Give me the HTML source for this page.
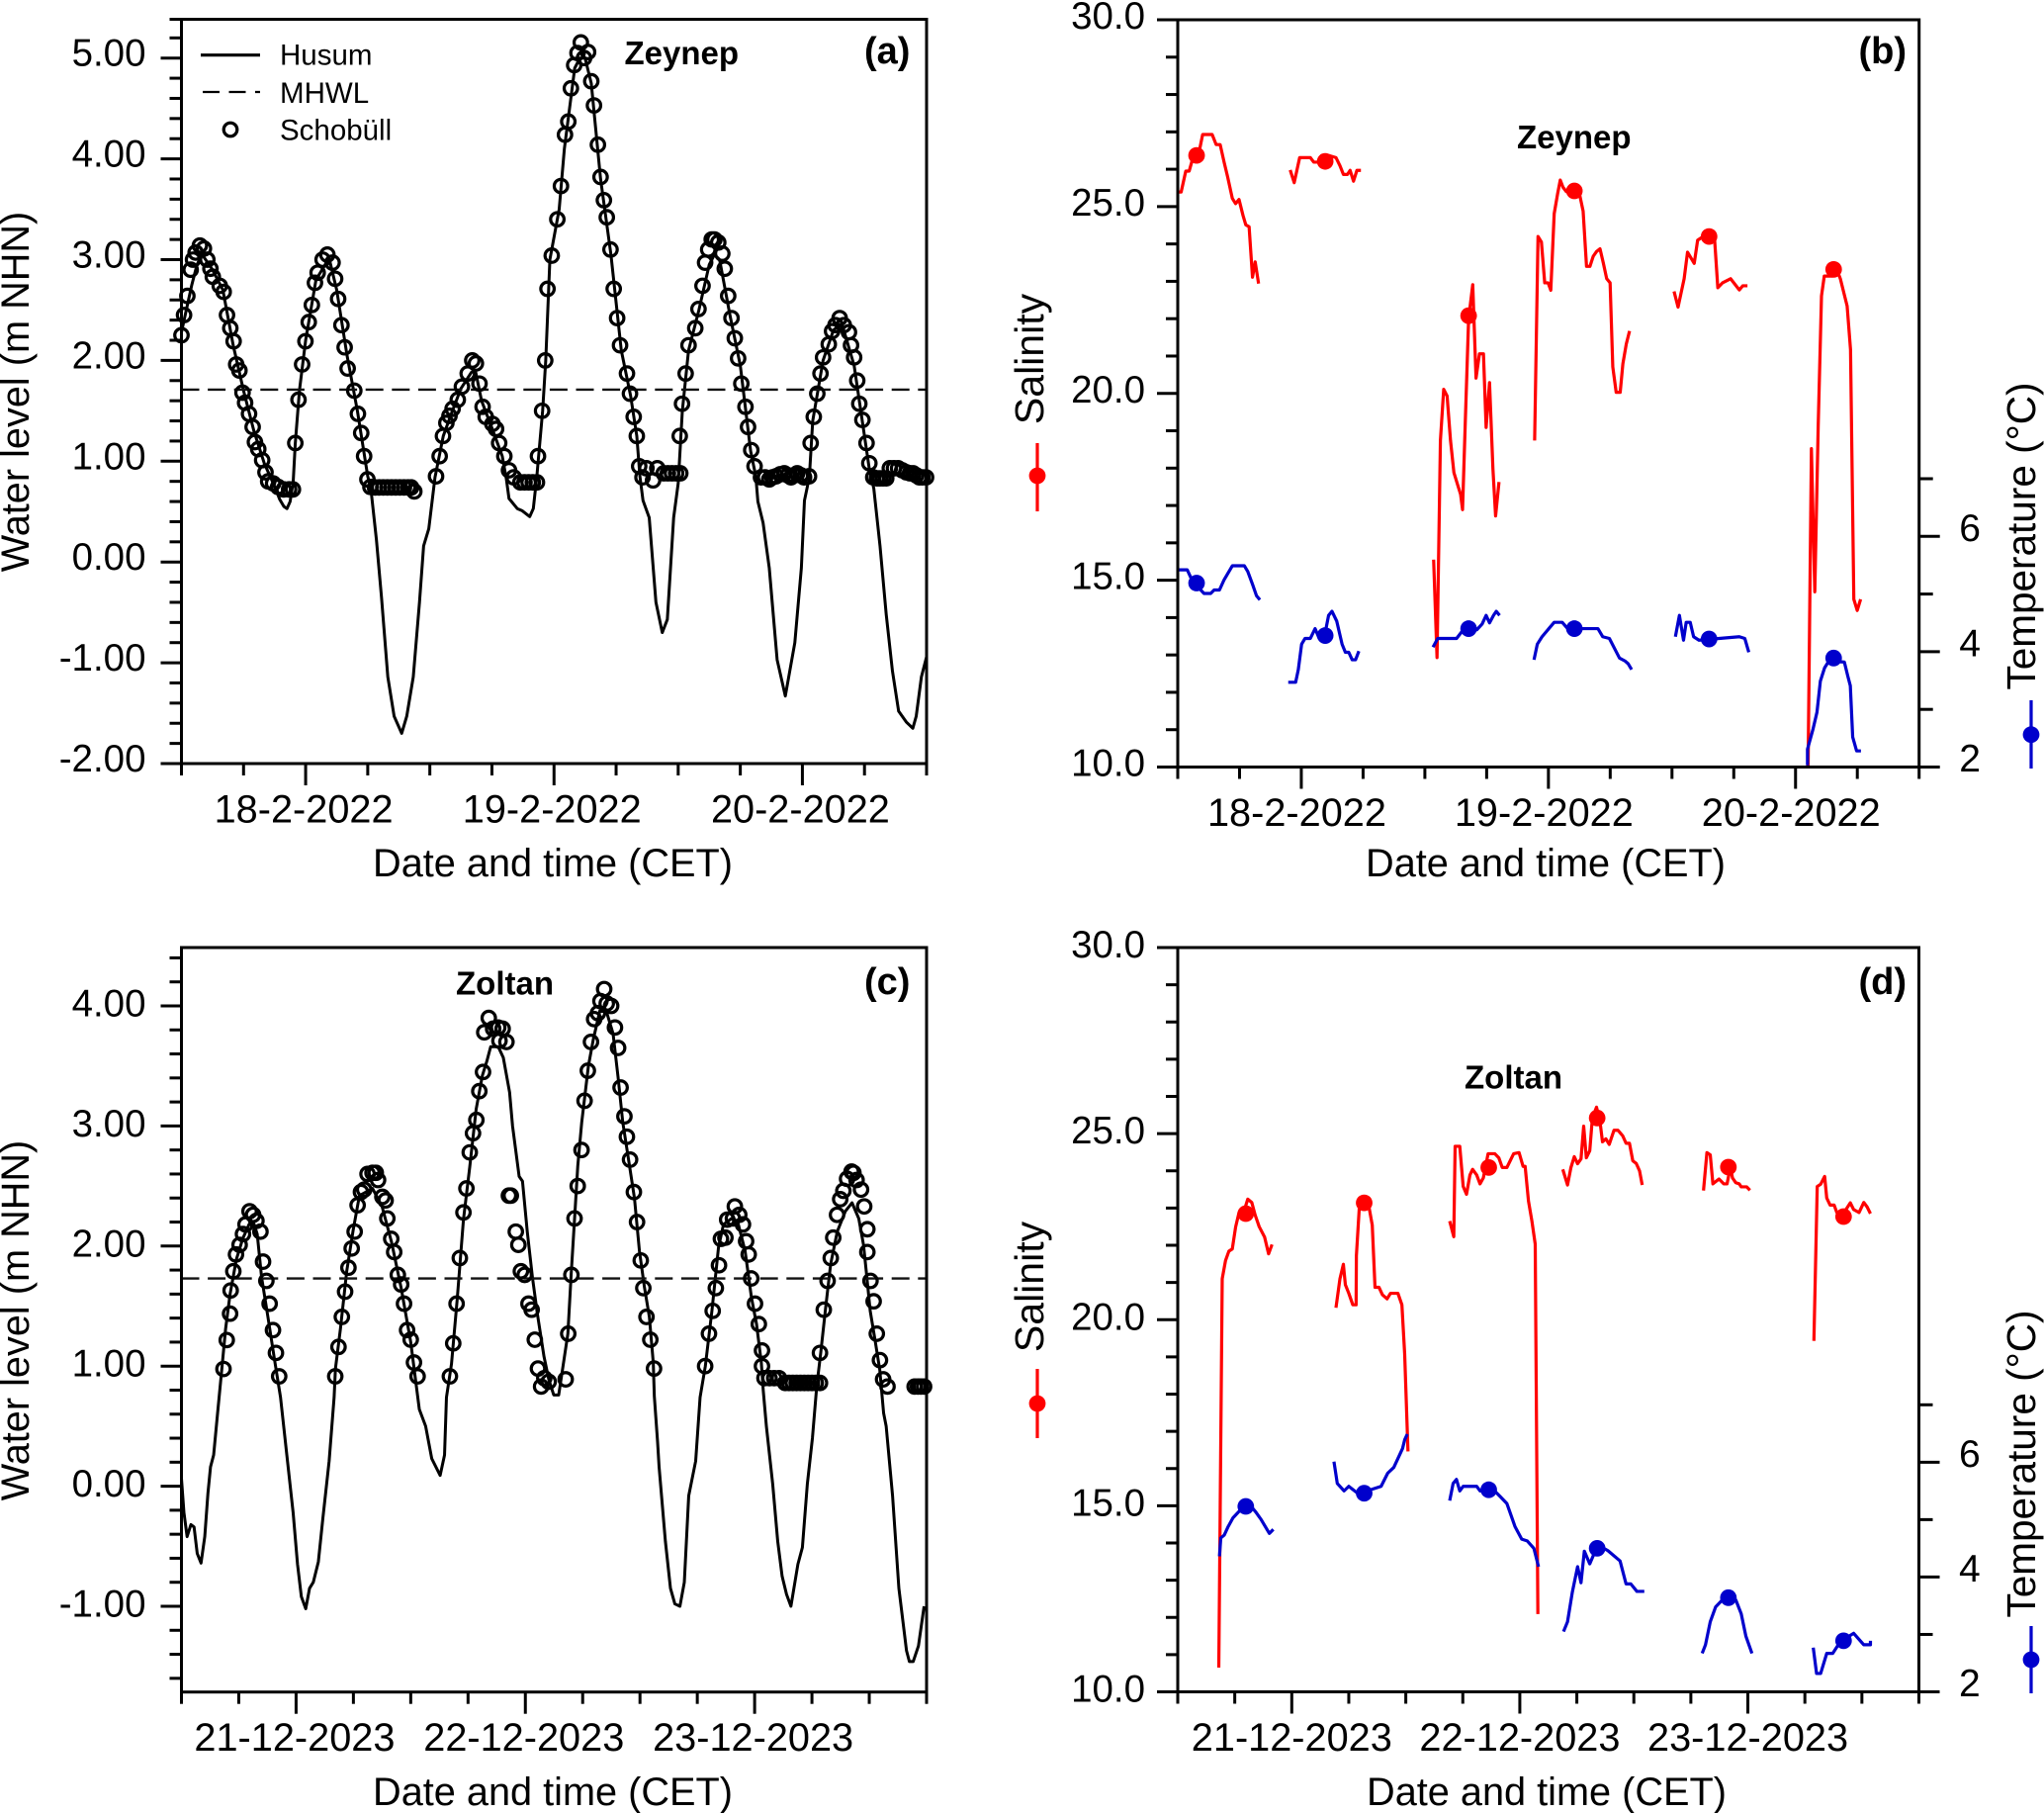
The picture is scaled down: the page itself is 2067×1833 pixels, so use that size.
<!DOCTYPE html>
<html lang="en">
<head>
<meta charset="utf-8">
<title>Water level, salinity and temperature during storms Zeynep and Zoltan</title>
<style>
html,body{margin:0;padding:0;background:#fff;}
svg{display:block;font-family:"Liberation Sans",Arial,sans-serif;fill:#000;}
.tick{font-size:38.5px;}
.xt{font-size:39.7px;}
.rt{font-size:39px;}
.title{font-size:39.7px;}
.sal{font-size:41px;}
.temp{font-size:40.5px;}
.leg{font-size:29.5px;}
.bold{font-size:33px;font-weight:bold;}
.tag{font-size:38px;font-weight:bold;}
</style>
</head>
<body>
<svg id="figure" xmlns="http://www.w3.org/2000/svg" width="2067" height="1833" viewBox="0 0 2067 1833">
  <rect x="0" y="0" width="2067" height="1833" fill="#fff"/>
  <g id="panel-a"></g>
  <g id="panel-b"></g>
  <g id="panel-c"></g>
  <g id="panel-d"></g>

  <g>
    <line x1="203" x2="263" y1="55.7" y2="55.7" stroke="#000" stroke-width="3.2"/>
    <text class="leg" x="283" y="65.7">Husum</text>
    <line x1="205" x2="263" y1="93" y2="93" stroke="#000" stroke-width="2.2" stroke-dasharray="17 9.5"/>
    <text class="leg" x="283" y="104">MHWL</text>
    <circle cx="233" cy="131" r="6.8" fill="none" stroke="#000" stroke-width="3.2"/>
    <text class="leg" x="283" y="141.7">Schobüll</text>
  </g>

  <text class="bold" x="631.5" y="65">Zeynep</text>
  <text class="tag" x="874" y="64">(a)</text>
  <text class="bold" x="1534" y="150">Zeynep</text>
  <text class="tag" x="1879.5" y="64">(b)</text>
  <text class="bold" x="461" y="1005.5">Zoltan</text>
  <text class="tag" x="874" y="1005">(c)</text>
  <text class="bold" x="1481" y="1100.5">Zoltan</text>
  <text class="tag" x="1879.5" y="1005">(d)</text>

  <text class="title" x="559" y="886" text-anchor="middle">Date and time (CET)</text>
  <text class="title" x="1563" y="886" text-anchor="middle">Date and time (CET)</text>
  <text class="title" x="559" y="1825" text-anchor="middle">Date and time (CET)</text>
  <text class="title" x="1564" y="1825" text-anchor="middle">Date and time (CET)</text>

  <text class="title" text-anchor="middle" transform="translate(29 396) rotate(-90)">Water level (m NHN)</text>
  <text class="title" text-anchor="middle" transform="translate(29 1335) rotate(-90)">Water level (m NHN)</text>
  <text class="sal" text-anchor="middle" transform="translate(1055 363) rotate(-90)">Salinity</text>
  <text class="sal" text-anchor="middle" transform="translate(1055 1301) rotate(-90)">Salinity</text>
  <text class="temp" text-anchor="middle" transform="translate(2058 542) rotate(-90)">Temperature (°C)</text>
  <text class="temp" text-anchor="middle" transform="translate(2058 1480) rotate(-90)">Temperature (°C)</text>

  <g>
    <line x1="1049" x2="1049" y1="448" y2="517" stroke="#f00" stroke-width="3.2"/>
    <circle cx="1049" cy="481" r="8.4" fill="#f00"/>
  </g>
  <g>
    <line x1="1049" x2="1049" y1="1384" y2="1454" stroke="#f00" stroke-width="3.2"/>
    <circle cx="1049" cy="1419" r="8.4" fill="#f00"/>
  </g>
  <g>
    <line x1="2054" x2="2054" y1="708" y2="777" stroke="#00c" stroke-width="3.2"/>
    <circle cx="2054" cy="742.7" r="8.4" fill="#00c"/>
  </g>
  <g>
    <line x1="2054" x2="2054" y1="1644" y2="1712" stroke="#00c" stroke-width="3.2"/>
    <circle cx="2054" cy="1678" r="8.4" fill="#00c"/>
  </g>
</svg>

<script>
// ---------- Data: [hours since axis start, value] ----------
const zeynepDays = ['18-2-2022','19-2-2022','20-2-2022'];
const zoltanDays = ['21-12-2023','22-12-2023','23-12-2023'];
const levelLabelsA = ['-2.00','-1.00','0.00','1.00','2.00','3.00','4.00','5.00'];
const levelLabelsC = ['-1.00','0.00','1.00','2.00','3.00','4.00'];
const salinityLabels = ['10.0','15.0','20.0','25.0','30.0'];
const temperatureLabels = ['2','4','6'];
const mhwlZeynep = 1.71;
const mhwlZoltan = 1.73;

const husumA = [[0,2.28],[1,2.75],[1.5,2.95],[2,3.05],[3,2.9],[4,2.7],[5,2.15],[6,1.7],[7,1.3],[8,.98],[9,.75],[9.5,.62],[9.9,.55],[10.2,.53],[10.5,.6],[10.8,.8],[11,1.18],[11.4,1.7],[12,2.2],[13,2.8],[14,2.97],[14.3,3],[15,2.7],[16,2.05],[17,1.5],[18,.85],[18.3,.73],[18.84,.22],[19.33,-.35],[19.94,-1.14],[20.55,-1.53],[21.28,-1.7],[21.77,-1.53],[22.4,-1.14],[23,-.4],[23.4,.16],[23.9,.33],[24.5,.84],[25.3,1.25],[26,1.45],[27,1.72],[28,1.88],[28.4,1.9],[29,1.6],[30,1.33],[31,1.05],[31.4,.82],[31.65,.63],[32.45,.53],[32.9,.51],[33.65,.45],[34,.53],[34.35,.86],[34.9,1.5],[35.2,2],[35.6,3],[36.5,3.5],[37,4.1],[38,4.9],[38.5,5],[39,5],[39.6,4.75],[40.5,3.8],[41.5,3.05],[42.5,2.1],[43.4,1.65],[44,1.25],[44.3,.85],[44.6,.61],[45.2,.44],[45.85,-.4],[46.46,-.7],[46.95,-.57],[47.56,.44],[48,.78],[48.4,1.5],[49,2.1],[50,2.5],[51,2.95],[51.5,3.05],[52,3],[53,2.45],[54,1.95],[55,1.1],[55.5,.85],[55.7,.6],[56.2,.39],[56.8,-.06],[57.56,-.97],[58.35,-1.33],[59.27,-.8],[59.9,-.06],[60.2,.61],[60.67,.84],[61,1.4],[62,2],[63,2.3],[63.6,2.35],[64,2.3],[65,1.95],[66,1.25],[66.5,.9],[66.9,.73],[67.5,.16],[68.1,-.52],[68.7,-1.08],[69.3,-1.48],[70.06,-1.59],[70.67,-1.65],[71,-1.53],[71.5,-1.14],[72,-.94]];

const schobuellA = [[0,2.25],[.25,2.45],[.57,2.64],[.89,2.9],[1.12,3],[1.37,3.07],[1.78,3.14],[2.17,3.11],[2.5,3],[2.8,2.91],[3.03,2.83],[3.7,2.74],[4.08,2.68],[4.4,2.45],[4.72,2.32],[5.04,2.19],[5.29,1.96],[5.6,1.9],[5.9,1.68],[6.15,1.58],[6.53,1.47],[6.88,1.34],[7.1,1.19],[7.42,1.12],[7.8,1.01],[8.12,.89],[8.38,.8],[8.86,.78],[9.34,.745],[9.88,.72],[10.4,.72],[10.77,.72],[11,1.18],[11.31,1.61],[11.66,1.96],[11.98,2.19],[12.3,2.38],[12.6,2.55],[12.9,2.77],[13.16,2.87],[13.64,3],[14.1,3.05],[14.6,2.97],[14.85,2.81],[15.14,2.61],[15.46,2.35],[15.77,2.13],[16.06,1.92],[16.7,1.7],[17.05,1.47],[17.37,1.28],[17.65,1.05],[17.97,.82],[18.26,.745],[18.7,.74],[19.1,.74],[19.5,.74],[19.9,.74],[20.3,.74],[20.7,.74],[21.1,.74],[21.5,.74],[21.9,.74],[22.2,.74],[22.5,.7],[24.6,.85],[24.95,1.05],[25.27,1.25],[25.6,1.38],[25.9,1.45],[26.2,1.52],[26.7,1.61],[27.1,1.74],[27.66,1.87],[28.1,2],[28.45,1.97],[28.8,1.77],[29.1,1.54],[29.4,1.44],[30.05,1.37],[30.4,1.32],[30.7,1.18],[31.2,1.05],[31.65,.91],[32.1,.84],[32.75,.79],[33.15,.79],[33.55,.79],[33.95,.79],[34.35,.79],[34.45,1.05],[34.85,1.5],[35.15,2],[35.37,2.71],[35.78,3.04],[36.32,3.4],[36.67,3.73],[37.06,4.24],[37.38,4.37],[37.63,4.7],[37.95,4.93],[38.27,5.05],[38.59,5.155],[38.9,5],[39.29,5.06],[39.6,4.77],[39.86,4.53],[40.24,4.14],[40.5,3.82],[40.82,3.59],[41.1,3.42],[41.46,3.1],[41.77,2.71],[42.1,2.42],[42.38,2.15],[43.05,1.87],[43.34,1.67],[43.7,1.44],[44,1.25],[44.23,.95],[44.55,.84],[44.93,.93],[45.57,.81],[45.98,.93],[46.6,.88],[47,.88],[47.4,.88],[47.8,.88],[48.2,.88],[48.15,1.25],[48.37,1.57],[48.72,1.87],[49,2.15],[49.65,2.32],[49.96,2.51],[50.35,2.74],[50.6,2.97],[50.9,3.1],[51.24,3.2],[51.5,3.2],[51.87,3.17],[52.26,3.06],[52.5,2.91],[52.83,2.64],[53.15,2.42],[53.47,2.22],[53.79,2.02],[54.1,1.77],[54.5,1.54],[54.75,1.34],[55.06,1.11],[55.38,.95],[56,.84],[56.4,.84],[56.8,.82],[57.1,.84],[57.45,.85],[57.85,.87],[58.25,.88],[58.6,.86],[58.9,.84],[59.2,.86],[59.5,.88],[59.85,.86],[60.16,.84],[60.64,.85],[60.8,1.18],[61.1,1.44],[61.44,1.67],[61.75,1.87],[62,2.03],[62.55,2.16],[62.87,2.29],[63.2,2.35],[63.6,2.42],[64,2.35],[64.5,2.28],[64.7,2.15],[65,2.03],[65.3,1.8],[65.5,1.57],[65.8,1.41],[66.2,1.18],[66.47,.98],[66.85,.84],[67.2,.83],[67.5,.83],[67.8,.83],[68.1,.83],[68.45,.93],[68.85,.93],[69.25,.93],[69.65,.91],[70.05,.89],[70.4,.88],[70.7,.88],[71,.86],[71.3,.84],[71.6,.84],[71.95,.84]];

const husumC = [[0,.065],[.26,-.22],[.59,-.42],[.99,-.32],[1.32,-.34],[1.65,-.56],[2.05,-.64],[2.44,-.42],[2.77,-.06],[3.04,.16],[3.37,.26],[3.76,.59],[4.23,.98],[4.62,1.31],[5.09,1.6],[5.75,1.89],[6.41,2.06],[7.07,2.18],[7.53,2.2],[7.93,2.1],[8.39,1.74],[9.05,1.41],[9.71,1.07],[10.37,.74],[11.03,.26],[11.69,-.22],[12.15,-.65],[12.55,-.92],[13.01,-1.02],[13.41,-.85],[13.8,-.8],[14.33,-.63],[14.8,-.27],[15.46,.21],[15.98,.74],[16.12,.98],[16.64,1.31],[17.3,1.79],[17.97,2.13],[18.63,2.42],[20,2.48],[21,2.33],[22,2.03],[23,1.65],[24,1.2],[24.9,.64],[25.56,.5],[26.2,.23],[27.08,.09],[27.54,.26],[27.74,.74],[28.27,1.02],[28.86,1.55],[29.52,2.22],[30.18,2.66],[30.85,3.14],[31.5,3.42],[31.97,3.54],[32.37,3.66],[33.16,3.66],[33.69,3.57],[34.35,3.28],[34.66,3],[35.35,2.58],[35.7,2.54],[36.2,2.12],[36.74,1.74],[37.25,1.44],[37.95,1.08],[38.45,.89],[38.97,.76],[39.49,.76],[40,1.03],[40.45,1.27],[40.8,1.77],[41.2,2.29],[41.49,2.67],[41.9,3.03],[42.6,3.5],[43.11,3.72],[43.8,3.96],[44.5,3.95],[45.18,3.77],[45.7,3.41],[46.2,3.03],[46.9,2.67],[47.42,2.4],[47.94,1.96],[48.46,1.66],[48.98,1.41],[49.39,1.03],[49.5,.75],[49.84,.37],[50,.16],[50.66,-.46],[51.19,-.85],[51.65,-.98],[52.18,-1],[52.64,-.8],[53.1,-.08],[53.83,.21],[54.29,.74],[54.84,1],[55.53,1.46],[56.22,1.99],[56.74,2.18],[57.6,2.23],[58.3,2.18],[59,1.96],[59.67,1.57],[60.2,1.35],[60.7,1.03],[60.9,.8],[61.23,.5],[61.89,.02],[62.42,-.46],[62.88,-.75],[63.34,-.9],[63.8,-1],[64.53,-.65],[65,-.51],[65.52,.02],[66.05,.4],[66.5,.83],[66.92,1.11],[67.44,1.49],[67.96,1.85],[68.65,2.12],[69.5,2.29],[70.2,2.36],[70.9,2.23],[71.4,2.01],[71.75,1.74],[72.1,1.46],[72.6,1.22],[73.1,.97],[73.5,.61],[73.77,.5],[74.44,-.08],[75.1,-.85],[75.9,-1.37],[76.2,-1.46],[76.6,-1.46],[77.15,-1.33],[77.74,-1]];

const schobuellC = [[4.4,.976],[4.74,1.217],[5.09,1.437],[5.15,1.63],[5.43,1.79],[5.71,1.93],[6.09,2.01],[6.44,2.1],[6.71,2.18],[7.13,2.29],[7.5,2.26],[7.85,2.21],[8.27,2.12],[8.54,1.87],[8.89,1.71],[9.23,1.52],[9.58,1.3],[9.89,1.11],[10.23,.915],[16.1,.915],[16.44,1.16],[16.79,1.41],[17.13,1.62],[17.48,1.82],[17.82,1.98],[18.13,2.12],[18.44,2.34],[18.79,2.45],[19.13,2.47],[19.48,2.6],[20,2.61],[20.34,2.61],[20.58,2.55],[21.03,2.41],[21.37,2.38],[21.55,2.23],[21.96,2.06],[22.27,1.95],[22.65,1.76],[23,1.68],[23.3,1.52],[23.62,1.3],[24,1.22],[24.34,1.03],[24.72,.915],[28.1,.915],[28.45,1.19],[28.8,1.52],[29.14,1.9],[29.52,2.28],[29.83,2.48],[30.18,2.78],[30.52,2.94],[30.87,3.05],[31.18,3.29],[31.57,3.45],[31.7,3.78],[32.17,3.9],[32.63,3.81],[33.16,3.82],[33.62,3.81],[33.29,3.71],[34.02,3.7],[34.48,2.42],[34.28,2.42],[35,2.12],[35.27,2.01],[35.53,1.79],[35.93,1.76],[36.33,1.52],[36.66,1.47],[36.99,1.22],[37.32,.98],[37.65,.83],[37.98,.9],[38.44,.87],[40.22,.89],[40.49,1.27],[40.82,1.76],[41.15,2.23],[41.48,2.5],[41.88,2.8],[42.2,3.21],[42.54,3.46],[42.87,3.7],[43.2,3.89],[43.6,3.94],[43.86,4.04],[44.25,4.14],[44.52,4.02],[44.98,4],[45.38,3.82],[45.71,3.65],[45.97,3.32],[46.37,3.08],[46.63,2.91],[46.96,2.72],[47.36,2.45],[47.69,2.2],[48.08,1.88],[48.35,1.65],[48.68,1.41],[49.08,1.22],[49.47,.98],[54.82,1],[55.22,1.27],[55.61,1.46],[55.94,1.65],[56.27,1.84],[56.47,2.06],[56.94,2.07],[57.13,2.22],[57.73,2.23],[57.93,2.33],[58.39,2.26],[58.78,2.18],[59.11,2.04],[59.38,1.93],[59.64,1.73],[60.04,1.52],[60.44,1.35],[60.77,1.13],[60.77,1],[61.03,.9],[61.56,.9],[62.05,.9],[62.55,.9],[63.2,.86],[63.6,.86],[64,.86],[64.4,.86],[64.8,.86],[65.2,.86],[65.6,.86],[66,.86],[66.4,.86],[66.84,.86],[66.84,1.11],[67.24,1.47],[67.64,1.71],[67.97,1.9],[68.23,2.07],[68.63,2.26],[68.96,2.39],[69.29,2.46],[69.68,2.56],[70.15,2.62],[70.34,2.61],[70.67,2.55],[71.14,2.47],[71.47,2.33],[71.8,2.14],[71.8,1.95],[72.13,1.71],[72.46,1.54],[72.79,1.27],[73.12,1.05],[73.45,.89],[73.91,.83],[76.75,.83],[77.1,.83],[77.4,.83],[77.74,.83]];

const salinityB1 = [[0,25.39],[.33,25.39],[.78,25.95],[1.11,25.95],[1.57,26.4],[2.03,26.4],[2.42,26.93],[3.34,26.93],[3.73,26.66],[4.12,26.66],[4.51,26.18],[4.84,25.8],[5.3,25.22],[5.62,25.08],[5.95,25.19],[6.34,24.76],[6.61,24.51],[6.93,24.46],[7.26,23.11],[7.52,23.52],[7.85,22.94]];
const salinityB2 = [[10.92,25.98],[11.31,25.64],[11.84,26.31],[12.88,26.31],[13.21,26.19],[13.67,26.19],[14,26.37],[14.65,26.37],[15.37,26.31],[15.76,26.09],[16.09,25.86],[16.48,25.86],[16.74,25.97],[17.07,25.68],[17.4,25.97],[17.79,25.97]];
const salinityB3 = [[24.85,15.55],[25.18,12.93],[25.51,18.74],[25.83,20.11],[26.16,19.93],[26.49,18.74],[26.82,17.88],[27.21,17.53],[27.47,17.3],[27.66,16.89],[27.93,19.27],[28.25,22],[28.65,22.91],[28.97,20.41],[29.3,21.06],[29.69,21.06],[29.95,19.09],[30.28,20.29],[30.61,17.98],[30.87,16.72],[31.2,17.63]];
const salinityB4 = [[34.66,18.74],[34.99,24.2],[35.32,24.05],[35.64,22.96],[35.97,22.96],[36.23,22.76],[36.56,24.81],[36.89,25.34],[37.15,25.71],[37.41,25.52],[37.74,25.4],[38.52,25.4],[39.04,25.31],[39.37,24.88],[39.7,23.4],[40.03,23.4],[40.35,23.67],[40.68,23.8],[41.01,23.87],[41.33,23.49],[41.66,23.07],[41.99,22.96],[42.25,20.71],[42.58,20.03],[42.97,20.03],[43.23,20.79],[43.56,21.32],[43.88,21.67]];
const salinityB5 = [[48.2,22.73],[48.59,22.31],[49.18,23.07],[49.51,23.78],[50.16,23.48],[50.49,24.1],[51.47,24.28],[52.12,24.2],[52.45,22.83],[52.91,22.96],[53.69,23.07],[54.54,22.77],[54.87,22.88],[55.33,22.88]];
const salinityB6 = [[61.22,10.01],[61.54,18.52],[61.87,14.69],[62.2,19.13],[62.52,22.61],[62.79,23.14],[63.57,23.14],[64.03,23.3],[64.35,23.07],[65.01,22.34],[65.34,21.17],[65.66,14.49],[65.99,14.19],[66.32,14.49]];
const salinityDotsB = [[1.83,26.37],[14.32,26.21],[28.25,22.08],[38.52,25.42],[51.6,24.2],[63.7,23.32]];

const temperatureB1 = [[0,5.42],[.92,5.42],[1.44,5.22],[2.55,5.01],[3.2,5.01],[3.53,5.07],[4.05,5.07],[4.51,5.25],[5.3,5.49],[6.47,5.49],[6.8,5.39],[7.26,5.17],[7.65,4.97],[7.98,4.9]];
const temperatureB2 = [[10.73,3.47],[11.45,3.47],[11.71,3.69],[12.03,4.13],[12.36,4.23],[12.88,4.23],[13.34,4.4],[13.67,4.26],[14.32,4.33],[14.65,4.63],[14.98,4.7],[15.44,4.53],[15.96,4.13],[16.28,3.99],[16.61,3.99],[16.94,3.86],[17.27,3.86],[17.59,4.01]];
const temperatureB3 = [[24.79,4.08],[25.25,4.23],[27.08,4.23],[27.73,4.38],[29.04,4.38],[29.56,4.48],[29.95,4.63],[30.28,4.5],[30.67,4.63],[30.93,4.7],[31.26,4.63]];
const temperatureB4 = [[34.6,3.86],[34.92,4.13],[35.38,4.26],[36.04,4.4],[36.56,4.51],[37.34,4.51],[37.87,4.4],[40.81,4.4],[41.27,4.26],[41.92,4.23],[42.9,3.89],[43.43,3.84],[43.75,3.79],[44.08,3.69]];
const temperatureB5 = [[48.33,4.26],[48.72,4.63],[49.12,4.2],[49.38,4.51],[49.77,4.51],[50.1,4.26],[50.62,4.2],[54.54,4.26],[55.07,4.23],[55.46,3.99]];
const temperatureB6 = [[61.16,2.03],[61.16,2.31],[61.7,2.66],[62.08,2.95],[62.41,3.49],[62.82,3.72],[63.24,3.84],[64.74,3.82],[65.07,3.58],[65.32,3.41],[65.55,2.52],[65.93,2.28],[66.35,2.28]];
const temperatureDotsB = [[1.83,5.19],[14.32,4.28],[28.25,4.4],[38.52,4.4],[51.6,4.22],[63.7,3.89]];

const salinityD1 = [[4.32,10.65],[4.68,21.1],[5.03,21.59],[5.38,21.84],[5.74,21.9],[6.09,22.49],[6.45,22.88],[6.87,22.83],[7.37,23.24],[7.79,23.15],[8.15,22.81],[8.57,22.5],[9.14,22.22],[9.56,21.77],[9.92,22.02]];
const salinityD2 = [[16.65,20.32],[17.07,21.1],[17.43,21.49],[17.64,20.94],[18,20.71],[18.42,20.4],[18.77,20.4],[18.8,21.72],[19.13,23.11],[20.05,23.14],[20.47,22.54],[20.76,20.87],[21.18,20.87],[21.54,20.67],[22.03,20.56],[22.39,20.71],[23.17,20.71],[23.59,20.4],[23.88,19.09],[24.23,16.46]];
const salinityD3 = [[28.62,22.65],[29.05,22.23],[29.19,24.66],[29.68,24.66],[30.04,23.58],[30.39,23.37],[30.75,23.89],[31.03,24.04],[31.46,23.89],[31.81,23.65],[32.16,23.81],[32.66,24.46],[33.37,24.46],[33.79,24.35],[34.15,24.09],[34.64,24.09],[35.35,24.46],[35.92,24.49],[36.34,24.12],[36.56,24.12],[36.91,23.19],[37.27,22.65],[37.62,22.03],[37.9,12.09]];
const salinityD4 = [[40.52,24.04],[41.02,23.62],[41.38,24.09],[41.73,24.38],[42.08,24.19],[42.44,24.32],[42.72,25.2],[43,24.35],[43.36,24.54],[43.64,25.43],[44.07,25.71],[44.42,25.36],[44.7,24.78],[45.06,24.86],[45.41,24.71],[45.91,25.09],[46.33,25.09],[46.83,24.94],[47.18,24.74],[47.54,24.74],[47.89,24.27],[48.25,24.2],[48.6,24],[48.88,23.62]];
const salinityD5 = [[55.33,23.47],[55.69,24.49],[56.04,24.43],[56.32,23.65],[56.96,23.78],[57.46,23.65],[57.81,23.65],[58.16,24.1],[58.38,23.81],[58.73,23.68],[59.09,23.65],[59.3,23.57],[59.87,23.57],[60.22,23.48]];
const salinityD6 = [[66.95,19.43],[67.3,23.58],[67.66,23.64],[68.08,23.85],[68.3,23.27],[68.65,23.08],[69.08,23.08],[69.36,22.88],[70.07,22.86],[70.78,23.14],[71.13,22.96],[71.7,22.88],[72.2,23.15],[72.55,23.03],[72.9,22.85]];
const salinityDotsD = [[7.16,22.85],[19.62,23.14],[32.73,24.09],[44.14,25.42],[57.95,24.1],[70.07,22.77]];

const temperatureD1 = [[4.39,4.36],[4.53,4.68],[4.89,4.73],[5.31,4.88],[5.81,5.03],[6.66,5.18],[7.72,5.23],[8.22,5.13],[8.78,5],[9.64,4.76],[10.06,4.83]];
const temperatureD2 = [[16.44,6.01],[16.79,5.63],[17.5,5.5],[18,5.58],[18.92,5.46],[20.47,5.53],[21.4,5.58],[22.1,5.81],[22.74,5.91],[23.66,6.24],[23.88,6.39],[24.16,6.49]];
const temperatureD3 = [[28.62,5.33],[28.98,5.63],[29.33,5.7],[29.68,5.5],[30.04,5.58],[31.46,5.58],[31.81,5.5],[33.23,5.52],[33.94,5.4],[34.64,5.28],[35.49,4.88],[36.2,4.66],[36.77,4.63],[37.48,4.5],[37.97,4.18]];
const temperatureD4 = [[40.6,3.05],[41.02,3.22],[41.52,3.73],[42.08,4.18],[42.44,3.9],[42.79,4.45],[43.36,4.23],[44.21,4.56],[45.27,4.46],[46.55,4.28],[47.18,3.88],[47.68,3.88],[48.32,3.75],[49.1,3.75]];
const temperatureD5 = [[55.19,2.67],[55.54,2.82],[56.04,3.22],[56.61,3.48],[57.31,3.6],[58.73,3.6],[59.3,3.36],[59.79,2.97],[60.43,2.67]];
const temperatureD6 = [[66.88,2.77],[67.23,2.32],[67.66,2.32],[68.3,2.67],[68.93,2.67],[69.71,2.87],[71.13,3.02],[72.2,2.82],[72.9,2.82],[72.9,2.89]];
const temperatureDotsD = [[7.16,5.23],[19.62,5.46],[32.73,5.52],[44.14,4.5],[57.95,3.64],[70.07,2.89]];

// ---------- Drawing ----------
const NS = 'http://www.w3.org/2000/svg';
const INK = '#000';
const RED = '#f00';
const BLUE = '#00c';
const AXIS_WIDTH = 3;

function linear(d0, d1, r0, r1) {
  return function (v) { return r0 + (v - d0) * (r1 - r0) / (d1 - d0); };
}

function addLine(parent, name, x1, y1, x2, y2, color, width, dash) {
  const el = document.createElementNS(NS, 'line');
  
  
  el.setAttribute('x1', x1.toFixed(2));
  el.setAttribute('y1', y1.toFixed(2));
  el.setAttribute('x2', x2.toFixed(2));
  el.setAttribute('y2', y2.toFixed(2));
  el.setAttribute('stroke', color);
  el.setAttribute('stroke-width', width);
  if (dash) el.setAttribute('stroke-dasharray', dash);
  parent.appendChild(el);
  return el;
}

function addLabel(parent, name, cls, x, y, anchor, str) {
  const el = document.createElementNS(NS, 'text');
  
  
  el.setAttribute('class', cls);
  el.setAttribute('x', x.toFixed(2));
  el.setAttribute('y', y.toFixed(2));
  el.setAttribute('text-anchor', anchor);
  el.textContent = str;
  parent.appendChild(el);
  return el;
}

function addSeries(parent, name, points, sx, sy, color, width) {
  const el = document.createElementNS(NS, 'polyline');
  
  
  el.setAttribute('points', points.map(function (p) {
    return sx(p[0]).toFixed(2) + ',' + sy(p[1]).toFixed(2);
  }).join(' '));
  el.setAttribute('fill', 'none');
  el.setAttribute('stroke', color);
  el.setAttribute('stroke-width', width);
  el.setAttribute('stroke-linejoin', 'round');
  parent.appendChild(el);
  return el;
}

function addDots(parent, name, points, sx, sy, r, fill, stroke, sw) {
  points.forEach(function (p) {
    const el = document.createElementNS(NS, 'circle');
    
    
    el.setAttribute('cx', sx(p[0]).toFixed(2));
    el.setAttribute('cy', sy(p[1]).toFixed(2));
    el.setAttribute('r', r);
    el.setAttribute('fill', fill);
    if (stroke) {
      el.setAttribute('stroke', stroke);
      el.setAttribute('stroke-width', sw);
    }
    parent.appendChild(el);
  });
}

function drawFrame(g, id, L, R, T, B) {
  const el = document.createElementNS(NS, 'rect');
  
  
  el.setAttribute('x', L);
  el.setAttribute('y', T);
  el.setAttribute('width', R - L);
  el.setAttribute('height', B - T);
  el.setAttribute('fill', 'none');
  el.setAttribute('stroke', INK);
  el.setAttribute('stroke-width', AXIS_WIDTH);
  g.appendChild(el);
}

function drawTimeAxis(g, id, sx, totalHours, bottom, days, labelShift) {
  let dayIndex = 0;
  for (let i = 0; i * 6 <= totalHours; i++) {
    const h = i * 6;
    const major = (i - 2) % 4 === 0 && i >= 2;
    addLine(g, 'x-tick-' + id, sx(h), bottom, sx(h), bottom + (major ? 22 : 12), INK, AXIS_WIDTH);
    if (major && dayIndex < days.length) {
      addLabel(g, 'x-tick-label-' + id, 'xt', sx(h) + labelShift, bottom + 59.5, 'middle', days[dayIndex]);
      dayIndex++;
    }
  }
}

function drawLeftAxis(g, id, sy, left, lo, hi, stepPerMajor, minorsPerMajor, labels, labelDy, labelRight) {
  const total = Math.round((hi - lo) / stepPerMajor * minorsPerMajor);
  const firstLabelValue = parseFloat(labels[0]);
  for (let i = 0; i <= total; i++) {
    const v = lo + i * stepPerMajor / minorsPerMajor;
    const steps = (v - firstLabelValue) / stepPerMajor;
    const major = Math.abs(steps - Math.round(steps)) < 1e-6;
    addLine(g, 'y-tick-' + id, left - (major ? 21 : 12), sy(v), left, sy(v), INK, AXIS_WIDTH);
    const labelIndex = Math.round(steps);
    if (major && labelIndex >= 0 && labelIndex < labels.length) {
      addLabel(g, 'y-tick-label-' + id, 'tick', labelRight, sy(v) + labelDy, 'end', labels[labelIndex]);
    }
  }
}

function drawRightAxis(g, id, sy, right) {
  let labelIndex = 0;
  for (let t = 2; t <= 7; t++) {
    const major = t % 2 === 0;
    addLine(g, 'temperature-tick-' + id, right, sy(t), right + (major ? 21 : 14), sy(t), INK, AXIS_WIDTH);
    if (major) {
      addLabel(g, 'temperature-tick-label-' + id, 'rt', right + 40.5, sy(t) + 4.5, 'start', temperatureLabels[labelIndex]);
      labelIndex++;
    }
  }
}

function drawWaterPanel(cfg) {
  const g = document.getElementById('panel-' + cfg.id);
  const sx = linear(0, cfg.hours, cfg.L, cfg.R);
  const sy = linear(cfg.v0, cfg.v1, cfg.y0, cfg.y1);
  addSeries(g, 'husum-line-' + cfg.id, cfg.husum, sx, sy, INK, 3);
  addLine(g, 'mhwl-line-' + cfg.id, cfg.L, sy(cfg.mhwl), cfg.R, sy(cfg.mhwl), '#111', 2.4, '18 8.6');
  addDots(g, 'schobuell-marker-' + cfg.id, cfg.schobuell, sx, sy, 6.8, 'none', INK, 3.2);
  drawFrame(g, cfg.id, cfg.L, cfg.R, cfg.T, cfg.B);
  drawLeftAxis(g, cfg.id, sy, cfg.L, cfg.tickLo, cfg.tickHi, 1, 5, cfg.labels, cfg.labelDy, 147.5);
  if (cfg.topTick) addLine(g, 'y-tick-top-' + cfg.id, cfg.L - 12, cfg.T, cfg.L, cfg.T, INK, AXIS_WIDTH);
  drawTimeAxis(g, cfg.id, sx, cfg.hours, cfg.B, cfg.days, cfg.labelShift);
}

function drawSalinityPanel(cfg) {
  const g = document.getElementById('panel-' + cfg.id);
  const sx = linear(0, cfg.hours, cfg.L, cfg.R);
  const sS = linear(10, 30, cfg.B, cfg.T);
  const sT = linear(2, 7, cfg.B, cfg.t7);
  cfg.salinity.forEach(function (seg) {
    addSeries(g, 'salinity-line-' + cfg.id, seg, sx, sS, RED, 3.2);
  });
  cfg.temperature.forEach(function (seg) {
    addSeries(g, 'temperature-line-' + cfg.id, seg, sx, sT, BLUE, 3.2);
  });
  addDots(g, 'salinity-dot-' + cfg.id, cfg.salinityDots, sx, sS, 8.4, RED);
  addDots(g, 'temperature-dot-' + cfg.id, cfg.temperatureDots, sx, sT, 8.4, BLUE);
  drawFrame(g, cfg.id, cfg.L, cfg.R, cfg.T, cfg.B);
  drawLeftAxis(g, cfg.id, sS, cfg.L, 10, 30, 5, 5, salinityLabels, cfg.labelDy, 1158);
  drawRightAxis(g, cfg.id, sT, cfg.R);
  drawTimeAxis(g, cfg.id, sx, cfg.hours, cfg.B, cfg.days, cfg.labelShift);
}

drawWaterPanel({
  id: 'a', hours: 72, L: 183.5, R: 937, T: 19.5, B: 772,
  v0: -2, v1: 5, y0: 772, y1: 58.7, tickLo: -2, tickHi: 5.2, topTick: true,
  labels: levelLabelsA, labelDy: 8, mhwl: mhwlZeynep,
  husum: husumA, schobuell: schobuellA, days: zeynepDays, labelShift: -2
});
drawWaterPanel({
  id: 'c', hours: 78, L: 183.5, R: 937, T: 958, B: 1710.7,
  v0: -1, v1: 4, y0: 1624, y1: 1017, tickLo: -1.6, tickHi: 4.4, topTick: false,
  labels: levelLabelsC, labelDy: 10.5, mhwl: mhwlZoltan,
  husum: husumC, schobuell: schobuellC, days: zoltanDays, labelShift: -1.5
});
drawSalinityPanel({
  id: 'b', hours: 72, L: 1191, R: 1940.7, T: 20, B: 775.5, t7: 484, labelDy: 9,
  salinity: [salinityB1, salinityB2, salinityB3, salinityB4, salinityB5, salinityB6],
  temperature: [temperatureB1, temperatureB2, temperatureB3, temperatureB4, temperatureB5, temperatureB6],
  salinityDots: salinityDotsB, temperatureDots: temperatureDotsB, days: zeynepDays, labelShift: -4.5
});
drawSalinityPanel({
  id: 'd', hours: 78, L: 1191, R: 1940.5, T: 958, B: 1710.5, t7: 1420.3, labelDy: 10,
  salinity: [salinityD1, salinityD2, salinityD3, salinityD4, salinityD5, salinityD6],
  temperature: [temperatureD1, temperatureD2, temperatureD3, temperatureD4, temperatureD5, temperatureD6],
  salinityDots: salinityDotsD, temperatureDots: temperatureDotsD, days: zoltanDays, labelShift: 0
});
</script>
</body>
</html>
